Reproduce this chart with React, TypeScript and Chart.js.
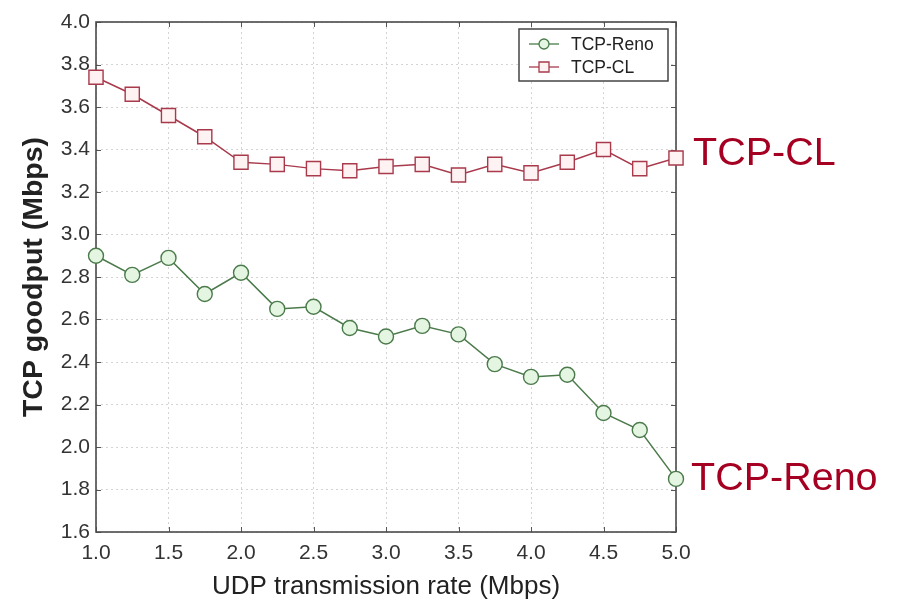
import React, { useEffect, useRef } from "react";
import { Chart, registerables } from "chart.js";

Chart.register(...registerables);

const xValues = [1.0, 1.25, 1.5, 1.75, 2.0, 2.25, 2.5, 2.75, 3.0, 3.25, 3.5, 3.75, 4.0, 4.25, 4.5, 4.75, 5.0];
const renoValues = [2.90, 2.81, 2.89, 2.72, 2.82, 2.65, 2.66, 2.56, 2.52, 2.57, 2.53, 2.39, 2.33, 2.34, 2.16, 2.08, 1.85];
const clValues = [3.74, 3.66, 3.56, 3.46, 3.34, 3.33, 3.31, 3.30, 3.32, 3.33, 3.28, 3.33, 3.29, 3.34, 3.40, 3.31, 3.36];
const seriesNames = ["TCP-Reno", "TCP-CL"];
const xAxisTitle = "UDP transmission rate (Mbps)";
const yAxisTitle = "TCP goodput (Mbps)";
const xMin = 1.0, xMax = 5.0, xStep = 0.5;
const yMin = 1.6, yMax = 4.0, yStep = 0.2;

const RENO_LINE = "#4b7a4b";
const RENO_FILL = "#e4f6e2";
const CL_LINE = "#a83a4c";
const CL_FILL = "#fff2f2";
const ANNOT = "#a50021";
const FONT = "'Liberation Sans', Arial, sans-serif";

const decorPlugin = {
  id: "decor",
  beforeDatasetsDraw(chart: any) {
    const { ctx, chartArea: a, scales } = chart;
    ctx.save();
    ctx.strokeStyle = "#555";
    ctx.lineWidth = 1;
    const tl = 5;
    scales.x.ticks.forEach((t: any) => {
      const px = Math.round(scales.x.getPixelForValue(t.value)) + 0.5;
      ctx.beginPath();
      ctx.moveTo(px, a.top); ctx.lineTo(px, a.top + tl);
      ctx.moveTo(px, a.bottom); ctx.lineTo(px, a.bottom - tl);
      ctx.stroke();
    });
    scales.y.ticks.forEach((t: any) => {
      const py = Math.round(scales.y.getPixelForValue(t.value)) + 0.5;
      ctx.beginPath();
      ctx.moveTo(a.left, py); ctx.lineTo(a.left + tl, py);
      ctx.moveTo(a.right, py); ctx.lineTo(a.right - tl, py);
      ctx.stroke();
    });
    ctx.lineWidth = 1.6;
    ctx.strokeStyle = "#4a4a4a";
    ctx.strokeRect(a.left, a.top, a.right - a.left, a.bottom - a.top);
    ctx.restore();
  },
  afterDraw(chart: any) {
    const { ctx, chartArea: a } = chart;
    ctx.save();
    const bx = a.right - 157, by = a.top + 7, bw = 149, bh = 52;
    ctx.fillStyle = "#fff";
    ctx.fillRect(bx, by, bw, bh);
    ctx.strokeStyle = "#444";
    ctx.lineWidth = 1.5;
    ctx.strokeRect(bx, by, bw, bh);
    const rows = [
      { name: seriesNames[0], line: RENO_LINE, fill: RENO_FILL, shape: "circle", y: by + 15 },
      { name: seriesNames[1], line: CL_LINE, fill: CL_FILL, shape: "rect", y: by + 38 },
    ];
    rows.forEach((r) => {
      ctx.strokeStyle = r.line;
      ctx.lineWidth = 1.3;
      ctx.beginPath();
      ctx.moveTo(bx + 10, r.y); ctx.lineTo(bx + 40, r.y);
      ctx.stroke();
      ctx.fillStyle = r.fill;
      ctx.beginPath();
      if (r.shape === "circle") ctx.arc(bx + 25, r.y, 5, 0, Math.PI * 2);
      else ctx.rect(bx + 20, r.y - 5, 10, 10);
      ctx.fill();
      ctx.stroke();
      ctx.fillStyle = "#222";
      ctx.font = `17.5px ${FONT}`;
      ctx.textBaseline = "middle";
      ctx.textAlign = "left";
      ctx.fillText(r.name, bx + 52, r.y + 1);
    });
    ctx.fillStyle = ANNOT;
    ctx.font = `39.5px ${FONT}`;
    ctx.textBaseline = "alphabetic";
    ctx.textAlign = "left";
    ctx.fillText(seriesNames[1], 693, 165);
    ctx.fillText(seriesNames[0], 691, 490);
    ctx.restore();
  },
};

export default function App() {
  const ref = useRef<HTMLCanvasElement>(null);
  useEffect(() => {
    if (!ref.current) return;
    const chart = new Chart(ref.current, {
      type: "line",
      data: {
        datasets: [
          {
            label: seriesNames[0],
            data: xValues.map((x, i) => ({ x, y: renoValues[i] })),
            borderColor: RENO_LINE,
            backgroundColor: RENO_FILL,
            borderWidth: 1.5,
            pointStyle: "circle",
            pointRadius: 7.5,
            pointBorderWidth: 1.4,
            pointBorderColor: RENO_LINE,
            pointBackgroundColor: RENO_FILL,
            tension: 0,
            clip: false as any,
          },
          {
            label: seriesNames[1],
            data: xValues.map((x, i) => ({ x, y: clValues[i] })),
            borderColor: CL_LINE,
            backgroundColor: CL_FILL,
            borderWidth: 1.5,
            pointStyle: "rect",
            pointRadius: 10,
            pointBorderWidth: 1.4,
            pointBorderColor: CL_LINE,
            pointBackgroundColor: CL_FILL,
            tension: 0,
            clip: false as any,
          },
        ],
      },
      options: {
        animation: false,
        responsive: false,
        maintainAspectRatio: false,
        layout: { padding: { top: 22, right: 221, left: 0, bottom: 0 } },
        plugins: { legend: { display: false }, tooltip: { enabled: false } },
        scales: {
          x: {
            type: "linear",
            min: xMin,
            max: xMax,
            afterFit: (s: any) => { s.height = 68; },
            ticks: {
              stepSize: xStep,
              color: "#333",
              font: { family: FONT, size: 21 },
              padding: 9,
              callback: (v: any) => Number(v).toFixed(1),
            },
            grid: { color: "#d4d4d4", lineWidth: 1, drawTicks: false },
            border: { display: false, dash: [2, 3] },
            title: {
              display: true,
              text: xAxisTitle,
              color: "#222",
              font: { family: FONT, size: 26, lineHeight: 1 },
              padding: { top: 0, bottom: 0 },
            },
          },
          y: {
            type: "linear",
            min: yMin,
            max: yMax,
            afterFit: (s: any) => { s.width = 96; },
            ticks: {
              stepSize: yStep,
              color: "#333",
              font: { family: FONT, size: 21 },
              padding: 6,
              callback: (v: any) => Number(v).toFixed(1),
            },
            grid: { color: "#d4d4d4", lineWidth: 1, drawTicks: false },
            border: { display: false, dash: [2, 3] },
            title: {
              display: true,
              text: yAxisTitle,
              color: "#222",
              font: { family: FONT, size: 28.5, weight: "bold", lineHeight: 1 },
              padding: { top: 20, bottom: 0 },
            },
          },
        },
      },
      plugins: [decorPlugin],
    });
    return () => chart.destroy();
  }, []);
  return (
    <div style={{ position: "fixed", left: 0, top: 0, width: 897, height: 600, background: "#fff" }}>
      <canvas ref={ref} width={897} height={600} style={{ width: 897, height: 600, display: "block" }} />
    </div>
  );
}
